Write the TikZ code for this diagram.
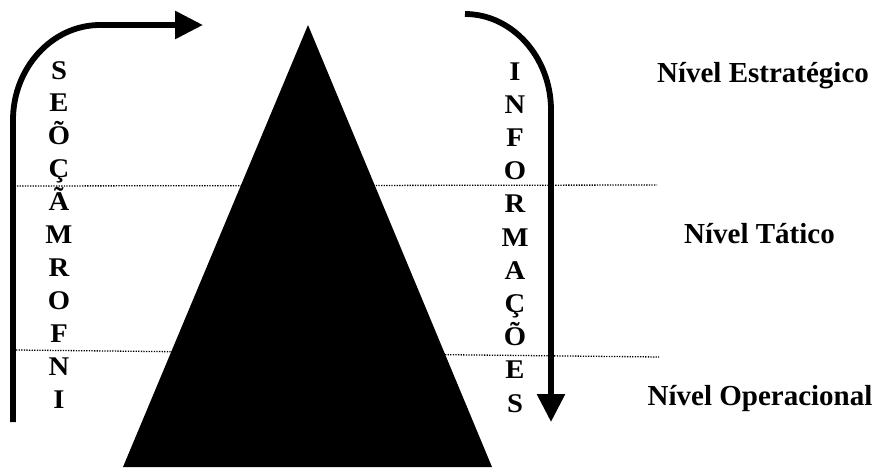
\documentclass[tikz,border=0pt]{standalone}
\usepackage{fontspec}
\setmainfont{Liberation Serif}
\usetikzlibrary{arrows.meta}
\newcommand{\widen}[1]{\scalebox{1.06}[1]{#1}}
\begin{document}
\begin{tikzpicture}[x=1pt,y=-1pt,
  letter/.style={font=\fontsize{27}{28}\selectfont\bfseries, anchor=base, inner sep=0pt},
  level/.style={font=\fontsize{29}{30}\selectfont\bfseries, anchor=base, inner sep=0pt},
  dotline/.style={line width=1.3pt, dash pattern=on 1.3pt off 1.3pt},
  flow/.style={line width=5.8pt, -{Triangle[length=28pt,width=27pt]}}]
\useasboundingbox (0,0) rectangle (875,469);
% dotted level separators
\coordinate (d1a) at (17,186);
\coordinate (d1b) at (657,185);
\coordinate (d2a) at (16,350);
\coordinate (d2b) at (659,357);
\draw[dotline] (d1a) -- (d1b);
\draw[dotline] (d2a) -- (d2b);
% pyramid
\coordinate (tl) at (123,467);
\coordinate (tt) at (308,25);
\coordinate (tr) at (492,467);
\fill[black] (tl) -- (tt) -- (tr) -- cycle;
% left arrow
\coordinate (la) at (13,422);
\coordinate (lb) at (13,120);
\coordinate (lc) at (100,25);
\coordinate (ld) at (203,25);
\draw[flow] (la) -- (lb) .. controls (13,68) and (52,25) .. (lc) -- (ld);
% right arrow
\coordinate (ra) at (465,14);
\coordinate (rb) at (551,110);
\coordinate (rc) at (551,422);
\draw[flow] (ra) .. controls (512,14) and (551,57) .. (rb) -- (rc);
% vertical letters
\foreach \c [count=\i from 0] in {S,E,Õ,Ç,Ã,M,R,O,F,N,I}
  \node[letter] (left\i) at (59,79+32.9*\i) {\widen{\c}};
\foreach \c [count=\i from 0] in {I,N,F,O,R,M,A,Ç,Õ,E,S}
  \node[letter] (right\i) at (515,80+33.2*\i) {\widen{\c}};
% level labels
\node[level] (est) at (763,82) {Nível Estratégico};
\node[level] (tat) at (759.5,243) {Nível Tático};
\node[level] (ope) at (760,405) {Nível Operacional};
\end{tikzpicture}
\end{document}
